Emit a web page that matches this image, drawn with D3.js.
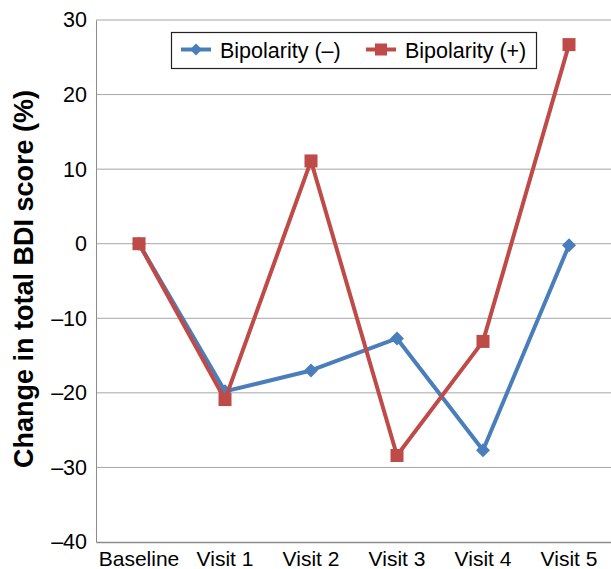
<!DOCTYPE html>
<html><head><meta charset="utf-8">
<script src="https://cdn.jsdelivr.net/npm/d3@7"></script>
<style>body{margin:0;background:#fff}svg{display:block;font-family:Arial,"Liberation Sans",sans-serif}</style>
</head><body><svg id="c" width="611" height="569"></svg>
<script>
const categories = ["Baseline","Visit 1","Visit 2","Visit 3","Visit 4","Visit 5"];
const seriesNames = ["Bipolarity (\u2013)","Bipolarity (+)"];
const bipolarNeg = [0,-19.8,-17.0,-12.7,-27.7,-0.2];
const bipolarPos = [0,-20.9,11.1,-28.4,-13.1,26.7];
const yTicks = [30,20,10,0,-10,-20,-30,-40];
const yTickLabels = ["30","20","10","0","\u201310","\u201320","\u201330","\u201340"];

const FF = "Arial,'Liberation Sans',sans-serif";
const svg = d3.select("#c");
const L=96, R=612, T=20, B=542;
const x = d3.scaleBand().domain(categories).range([L,R]);
const y = d3.scaleLinear().domain([-40,30]).range([B,T]);

// gridlines
svg.append("g").selectAll("line").data(yTicks.filter(d=>d!==-40)).join("line")
  .attr("x1",L).attr("x2",R).attr("y1",d=>y(d)).attr("y2",d=>y(d))
  .attr("stroke","#a6a6a6").attr("stroke-width",1);

// y axis
const yAxis = d3.axisLeft(y).tickValues(yTicks).tickSize(0).tickPadding(9)
  .tickFormat(d=>yTickLabels[yTicks.indexOf(d)]);
const gy = svg.append("g").attr("transform",`translate(${L},0)`).call(yAxis);
gy.select(".domain").attr("stroke","#8c8c8c");
gy.selectAll("text").attr("font-size",21.5).attr("fill","#000").attr("font-family",FF);

// x axis
const xAxis = d3.axisBottom(x).tickSize(0).tickPadding(0);
const gx = svg.append("g").attr("transform",`translate(0,${B})`).call(xAxis);
gx.select(".domain").attr("stroke","#8c8c8c").attr("stroke-width",1.5);
gx.selectAll("text").attr("font-size",21).attr("fill","#000").attr("font-family",FF)
  .attr("dy",null).attr("y",24);

// axis title
svg.append("text").attr("transform",`translate(33,${279}) rotate(-90)`)
  .attr("text-anchor","middle").attr("font-size",27).attr("font-weight","bold")
  .attr("font-family",FF)
  .text("Change in total BDI score (%)");

const series = [
  {name:seriesNames[0], values:bipolarNeg, color:"#4a7ebb", shape:"diamond"},
  {name:seriesNames[1], values:bipolarPos, color:"#be4b48", shape:"square"}
];
const line = d3.line().x((d,i)=>x(categories[i])+x.bandwidth()/2).y(d=>y(d));

series.forEach(s=>{
  svg.append("path").datum(s.values).attr("d",line).attr("fill","none")
    .attr("stroke",s.color).attr("stroke-width",4).attr("stroke-linejoin","round");
  s.values.forEach((v,i)=>{
    const g = svg.append("g").attr("transform",`translate(${x(categories[i])+x.bandwidth()/2},${y(v)})`);
    if(s.shape==="diamond"){
      g.append("path").attr("d","M0,-7L7,0L0,7L-7,0Z").attr("fill",s.color);
    } else {
      g.append("rect").attr("x",-6.5).attr("y",-6.5).attr("width",13).attr("height",13).attr("fill",s.color);
    }
  });
});

// legend
const lg = svg.append("g");
lg.append("rect").attr("x",171.5).attr("y",32.5).attr("width",365).attr("height",36)
  .attr("fill","#fff").attr("stroke","#222").attr("stroke-width",1.2);
const legX = [181, 366];
series.forEach((s,i)=>{
  const gx0 = legX[i];
  lg.append("line").attr("x1",gx0).attr("x2",gx0+30).attr("y1",49.5).attr("y2",49.5)
    .attr("stroke",s.color).attr("stroke-width",4);
  const m = lg.append("g").attr("transform",`translate(${gx0+15},49.5)`);
  if(s.shape==="diamond") m.append("path").attr("d","M0,-6L6,0L0,6L-6,0Z").attr("fill",s.color);
  else m.append("rect").attr("x",-6).attr("y",-6).attr("width",12).attr("height",12).attr("fill",s.color);
  lg.append("text").attr("x",gx0+39).attr("y",57.5).attr("font-size",21.5).attr("font-family",FF).text(s.name);
});
</script></body></html>
